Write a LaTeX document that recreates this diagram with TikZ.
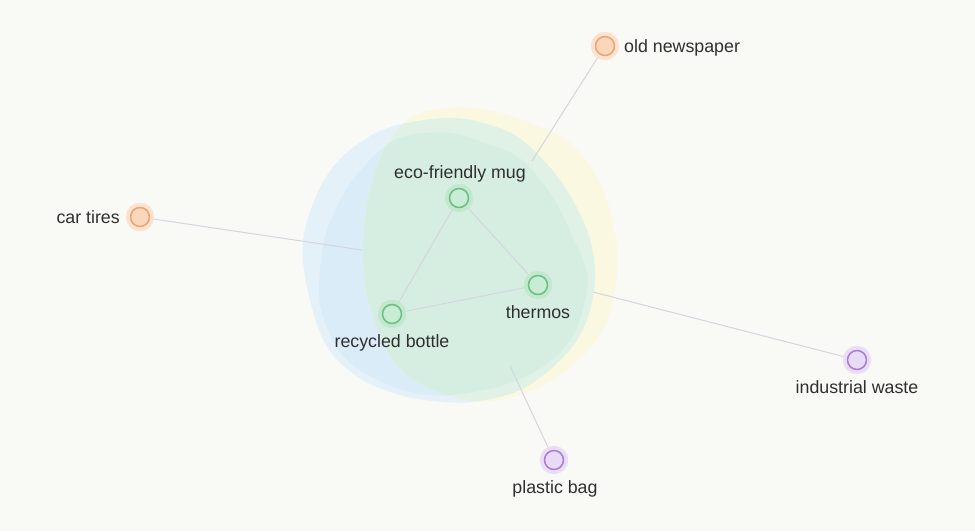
\documentclass[tikz,border=0pt]{standalone}
\usepackage{fontspec}
\setmainfont{Liberation Sans}
\definecolor{bg}{HTML}{F9F9F5}
\definecolor{blueO}{HTML}{E4F1F8}
\definecolor{blueI}{HTML}{D9ECF7}
\definecolor{yel}{HTML}{FBF8E2}
\definecolor{grnL}{HTML}{E0F1E5}
\definecolor{grnD}{HTML}{D6EEE1}
\definecolor{edgec}{HTML}{D5D5DE}
\definecolor{txt}{HTML}{2F2F2F}
\definecolor{orH}{HTML}{FCE3D1}
\definecolor{orF}{HTML}{FAD6BB}
\definecolor{orS}{HTML}{E8A676}
\definecolor{grH}{HTML}{C2E8CE}
\definecolor{grF}{HTML}{C8ECD4}
\definecolor{grS}{HTML}{6CBE83}
\definecolor{puH}{HTML}{ECDDF6}
\definecolor{puF}{HTML}{E9DAF6}
\definecolor{puS}{HTML}{A97FCF}
\newcommand\blobBO{plot[smooth cycle,tension=0.6] coordinates {(303,262) (310,212) (333,167) (367,138) (402,124) (452,118) (490,125) (522,140) (560,180) (587,230) (595,273) (590,310) (577,340) (553,367) (520,390) (480,401) (445,402) (400,395) (355,375) (322,337)}}
\newcommand\blobBI{plot[smooth cycle,tension=0.6] coordinates {(319,292) (325,237) (345,192) (372,158) (402,137) (450,133) (490,145) (522,160) (553,198) (573,238) (587,273) (584,305) (572,337) (548,363) (510,383) (460,394) (420,394) (380,381) (345,358) (326,325)}}
\newcommand\blobY{plot[smooth cycle,tension=0.6] coordinates {(363,250) (367,205) (378,165) (393,135) (415,115) (450,108) (487,110) (525,121) (570,143) (600,183) (615,233) (617,273) (610,313) (595,342) (570,367) (540,387) (500,400) (460,399) (412,379) (387,350) (368,300)}}
\tikzset{
  edge/.style={draw=edgec, line width=1pt},
  dot/.style={circle, minimum size=19pt, inner sep=0pt, line width=1.5pt},
  onode/.style={dot, fill=orF, draw=orS, preaction={draw=orH, line width=9pt}},
  gnode/.style={dot, fill=grF, draw=grS, preaction={draw=grH, line width=9pt}},
  pnode/.style={dot, fill=puF, draw=puS, preaction={draw=puH, line width=9pt}},
  lbl/.style={text=txt, inner sep=0pt, font=\fontsize{17.8}{21}\selectfont}
}
\begin{document}
\begin{tikzpicture}[x=1pt,y=-1pt]
\fill[bg] (0,0) rectangle (975,531);
\useasboundingbox (0,0) rectangle (975,531);
% hull blobs
\fill[blueO] \blobBO;
\fill[blueI] \blobBI;
\fill[yel] \blobY;
\begin{scope}
  \clip \blobY;
  \fill[grnL] \blobBO;
  \fill[grnD] \blobBI;
\end{scope}
% nodes
\node[onode] (news) at (605,46) {};
\node[onode] (tires) at (140,217) {};
\node[gnode] (mug) at (459,198) {};
\node[gnode] (thermos) at (538,285) {};
\node[gnode] (bottle) at (392,314) {};
\node[pnode] (waste) at (857,360) {};
\node[pnode] (bag) at (554,460) {};
% connector ends at the hull
\coordinate (cNews) at (532,161);
\coordinate (cTires) at (362,250);
\coordinate (cWaste) at (593,292);
\coordinate (cBag) at (510,366);
% edges
\draw[edge] (mug) -- (thermos);
\draw[edge] (mug) -- (bottle);
\draw[edge] (bottle) -- (thermos);
\draw[edge] (news) -- (cNews);
\draw[edge] (tires) -- (cTires);
\draw[edge] (waste) -- (cWaste);
\draw[edge] (bag) -- (cBag);
% redraw nodes on top of edges
\node[onode] at (news) {};
\node[onode] at (tires) {};
\node[gnode] at (mug) {};
\node[gnode] at (thermos) {};
\node[gnode] at (bottle) {};
\node[pnode] at (waste) {};
\node[pnode] at (bag) {};
% labels
\node[lbl, anchor=base west] (newsl) at (624,52) {old newspaper};
\node[lbl, anchor=base east] (tiresl) at (120,223) {car tires};
\node[lbl, anchor=base] (mugl) at (460,178) {eco-friendly mug};
\node[lbl, anchor=base] (thermosl) at (538,318) {thermos};
\node[lbl, anchor=base] (bottlel) at (392,347) {recycled bottle};
\node[lbl, anchor=base] (wastel) at (857,393) {industrial waste};
\node[lbl, anchor=base] (bagl) at (555,493) {plastic bag};
\end{tikzpicture}
\end{document}
